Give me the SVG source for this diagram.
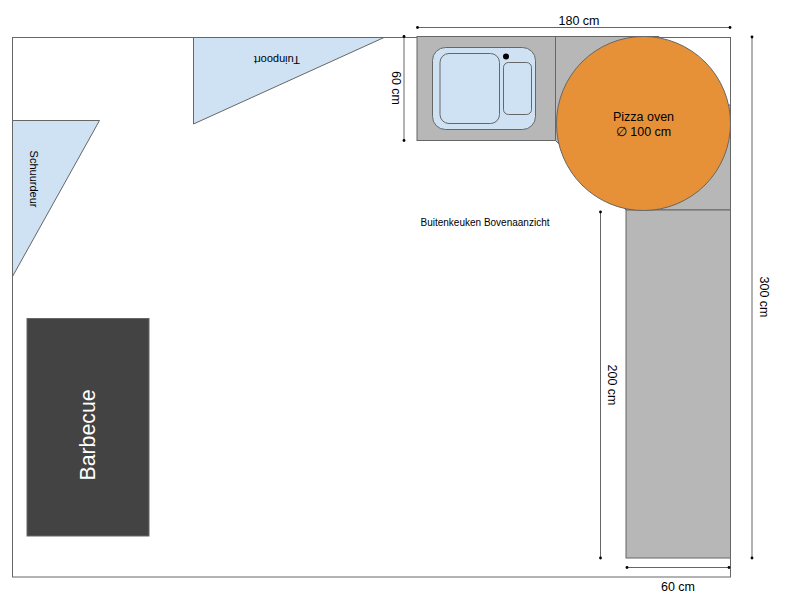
<svg xmlns="http://www.w3.org/2000/svg" width="800" height="601" viewBox="0 0 800 601">
<style>
text{font-family:"Liberation Sans",Arial,sans-serif;font-size:12.5px;fill:#000;text-anchor:middle}
.g{fill:#b7b7b7;stroke:#666;stroke-width:1}
.b{fill:#cfe2f3;stroke:#666;stroke-width:1}
.d{fill:none;stroke:#666;stroke-width:1;marker-start:url(#dot);marker-end:url(#dot)}
</style>
<defs><marker id="dot" markerUnits="userSpaceOnUse" markerWidth="4" markerHeight="4" refX="2" refY="2"><circle cx="2" cy="2" r="1.4" fill="#000"/></marker></defs>
<rect width="800" height="601" fill="#fff"/>
<g id="room"><rect x="12.5" y="37.5" width="718" height="539.5" fill="#fff" stroke="#666"/></g>
<g id="schuurdeur"><polygon class="b" points="12.5,120.5 99.5,120.5 12.5,276.5"/><text transform="translate(29.500,179) rotate(90)" style="font-size:11px">Schuurdeur</text></g>
<g id="tuinpoort"><polygon class="b" points="193.5,37.5 384,37.5 193.5,124"/><text transform="translate(277,55.500) rotate(180)" style="font-size:11px">Tuinpoort</text></g>
<g id="barbecue"><rect x="27" y="318.5" width="122" height="217.5" fill="#434343" stroke="#666"/><text transform="translate(95,435) rotate(-90)" style="font-size:21.300px;fill:#fff">Barbecue</text></g>
<g id="counter-corner"><polygon class="g" points="555.5,36.5 659,36.5 659,105 730.5,105 730.5,210 626,210 555.5,140.5"/></g>
<g id="counter-right"><rect class="g" x="626" y="210" width="104.5" height="348"/></g>
<g id="sink-unit"><rect class="g" x="417" y="36.5" width="138.5" height="104"/>
<rect class="b" x="432.5" y="47.5" width="103" height="82" rx="13" ry="13"/>
<rect class="b" x="440" y="53.5" width="59.5" height="70" rx="9" ry="9"/>
<rect class="b" x="503.5" y="62.5" width="28" height="52" rx="5" ry="5"/>
<circle cx="506" cy="56.5" r="3" fill="#000"/></g>
<g id="pizza-oven"><circle cx="643.5" cy="123.5" r="87" fill="#e69138" stroke="#666"/><text x="643.5" y="121">Pizza oven</text><text x="643.5" y="135.500">∅ 100 cm</text></g>
<g id="title"><text x="485" y="226" style="font-size:10px">Buitenkeuken Bovenaanzicht</text></g>
<g id="connectors">
<line class="d" x1="417.500" y1="27.500" x2="730" y2="27.500"/>
<line class="d" x1="404" y1="36.500" x2="404" y2="140.500"/>
<line class="d" x1="752" y1="37" x2="752" y2="558"/>
<line class="d" x1="600.500" y1="212" x2="600.500" y2="558"/>
<line class="d" x1="627" y1="567.500" x2="729" y2="567.500"/>
</g>
<g id="dimension-labels">
<text x="579" y="25">180 cm</text>
<text transform="translate(392,88) rotate(90)">60 cm</text>
<text transform="translate(760,297) rotate(90)">300 cm</text>
<text transform="translate(608,385) rotate(90)">200 cm</text>
<text x="678" y="591">60 cm</text>
</g>
</svg>
